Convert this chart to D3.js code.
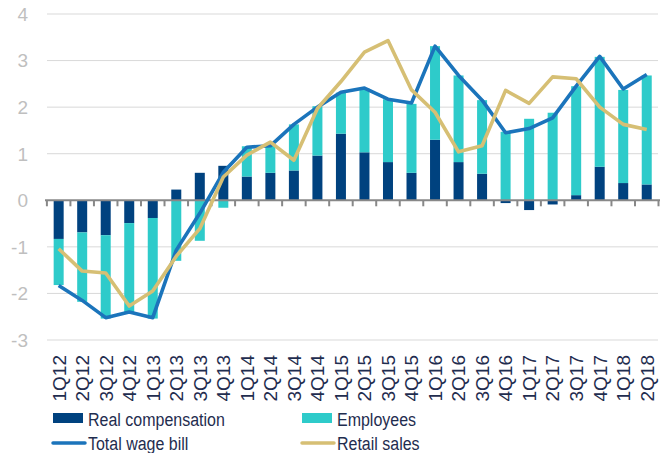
<!DOCTYPE html>
<html>
<head>
<meta charset="utf-8">
<script src="https://cdn.jsdelivr.net/npm/d3@7"></script>
<style>
  body { margin: 0; background: #fff; }
  svg { display: block; font-family: "Liberation Sans", Arial, sans-serif; }
</style>
</head>
<body>
<script>
// quarters
const quarters = ["1Q12","2Q12","3Q12","4Q12","1Q13","2Q13","3Q13","4Q13",
  "1Q14","2Q14","3Q14","4Q14","1Q15","2Q15","3Q15","4Q15",
  "1Q16","2Q16","3Q16","4Q16","1Q17","2Q17","3Q17","4Q17","1Q18","2Q18"];

// contributions (pp)
const realCompensation = [-0.83,-0.69,-0.75,-0.49,-0.38,0.23,0.59,0.74,
  0.51,0.59,0.64,0.96,1.43,1.03,0.82,0.59,
  1.30,0.82,0.57,-0.06,-0.21,-0.09,0.11,0.72,0.37,0.34];
const employees = [-0.99,-1.49,-1.79,-1.91,-2.16,-1.30,-0.87,-0.16,
  0.65,0.59,0.99,1.06,0.88,1.37,1.35,1.48,
  2.01,1.86,1.58,1.47,1.75,1.88,2.34,2.36,2.00,2.34];

// lines (%)
const totalWageBill = [-1.83,-2.15,-2.52,-2.40,-2.52,-1.07,-0.28,0.60,
  1.14,1.17,1.63,2.00,2.32,2.41,2.17,2.09,
  3.31,2.68,2.15,1.45,1.54,1.77,2.45,3.09,2.39,2.70];
const retailSales = [-1.04,-1.52,-1.56,-2.27,-1.95,-1.20,-0.61,0.50,
  0.97,1.25,0.86,1.97,2.55,3.18,3.43,2.37,
  1.89,1.04,1.17,2.36,2.08,2.65,2.61,2.00,1.63,1.52];

const yTicks = [-3,-2,-1,0,1,2,3,4];

const W = 663, H = 453;
const colReal = "#00427f", colEmp = "#2ecbca", colTotal = "#1b74bb", colRetail = "#d6bf74";
const textDark = "#1f2d4f";

const svg = d3.select("body").append("svg").attr("width", W).attr("height", H);

const x = d3.scaleBand().domain(quarters).range([46.9, 658.5])
  .paddingInner(0.575).paddingOuter(0.2875);
const y = d3.scaleLinear().domain([-3, 4]).range([340, 14]);

// gridlines
svg.append("g").selectAll("line").data(yTicks.filter(d => d !== 0)).enter().append("line")
  .attr("x1", 47).attr("x2", 658)
  .attr("y1", d => y(d)).attr("y2", d => y(d))
  .attr("stroke", "#d9d9d9").attr("stroke-width", 1);

// y labels
svg.append("g").selectAll("text").data(yTicks).enter().append("text")
  .attr("x", 28).attr("y", d => y(d)).attr("dy", "0.36em")
  .attr("text-anchor", "end").attr("fill", "#bfbfbf").attr("font-size", 19)
  .text(d => d);

// stacked bars
const rows = quarters.map((q, i) => ({q, real: realCompensation[i], emp: employees[i]}));
const series = d3.stack().keys(["real", "emp"]).offset(d3.stackOffsetDiverging)(rows);
const colors = {real: colReal, emp: colEmp};

svg.append("g").selectAll("g").data(series).enter().append("g")
  .attr("fill", d => colors[d.key])
  .selectAll("rect").data(d => d).enter().append("rect")
  .attr("x", d => x(d.data.q))
  .attr("width", x.bandwidth())
  .attr("y", d => y(Math.max(d[0], d[1])))
  .attr("height", d => Math.abs(y(d[0]) - y(d[1])));

// zero axis with ticks between categories
const axisG = svg.append("g").attr("stroke", "#888888");
axisG.append("line").attr("x1", 45).attr("x2", 660)
  .attr("y1", y(0)).attr("y2", y(0)).attr("stroke-width", 2);
const bounds = quarters.map(q => x(q) - x.step() * x.paddingInner() / 2);
bounds.push(bounds[bounds.length - 1] + x.step());
axisG.selectAll("line.t").data(bounds).enter().append("line").attr("class", "t")
  .attr("x1", d => d).attr("x2", d => d)
  .attr("y1", y(0)).attr("y2", y(0) + 6).attr("stroke-width", 2);

// lines
const cx = q => x(q) + x.bandwidth() / 2;
const lineGen = d3.line().x((d, i) => cx(quarters[i])).y(d => y(d));

svg.append("path").datum(totalWageBill).attr("d", lineGen)
  .attr("fill", "none").attr("stroke", colTotal).attr("stroke-width", 3.6)
  .attr("stroke-linejoin", "round");
svg.append("path").datum(retailSales).attr("d", lineGen)
  .attr("fill", "none").attr("stroke", colRetail).attr("stroke-width", 3.6)
  .attr("stroke-linejoin", "round");

// x labels
svg.append("g").selectAll("text").data(quarters).enter().append("text")
  .attr("transform", d => `translate(${cx(d)},355) rotate(-90)`)
  .attr("dy", "0.36em").attr("text-anchor", "end")
  .attr("fill", textDark).attr("font-size", 19)
  .text(d => d);

// legend
const legend = [
  {name: "Real compensation", type: "rect", color: colReal, x: 53, y: 413},
  {name: "Employees", type: "rect", color: colEmp, x: 302, y: 413},
  {name: "Total wage bill", type: "line", color: colTotal, x: 53, y: 437},
  {name: "Retail sales", type: "line", color: colRetail, x: 302, y: 437}
];
const lg = svg.append("g").selectAll("g").data(legend).enter().append("g")
  .attr("transform", d => `translate(${d.x},${d.y})`);
lg.filter(d => d.type === "rect").append("rect")
  .attr("width", 30).attr("height", 10).attr("fill", d => d.color);
lg.filter(d => d.type === "line").append("line")
  .attr("x1", 0).attr("x2", 32).attr("y1", 6).attr("y2", 6)
  .attr("stroke", d => d.color).attr("stroke-width", 3.5).attr("stroke-linecap", "round");
lg.append("text")
  .attr("transform", "translate(35,13) scale(1,1.1)")
  .attr("fill", textDark).attr("font-size", 16)
  .text(d => d.name);
</script>
</body>
</html>
